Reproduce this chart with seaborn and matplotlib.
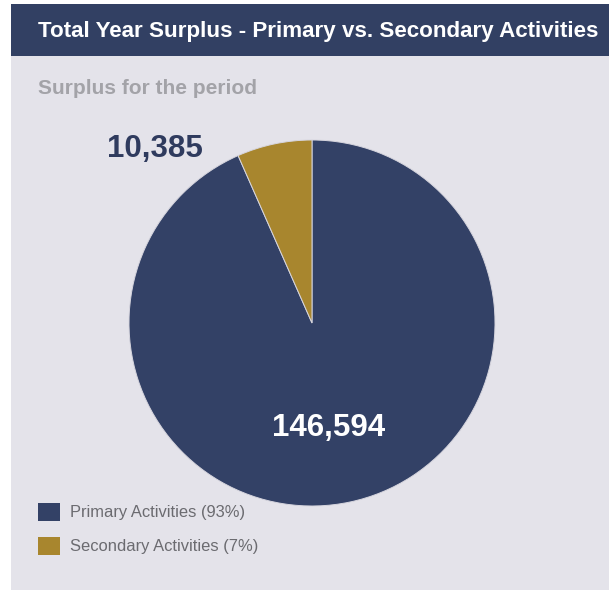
import matplotlib
matplotlib.use("Agg")
import matplotlib.pyplot as plt
from matplotlib.patches import Rectangle
import seaborn as sns

# Surplus split between the two activity groups
categories = ["Primary Activities", "Secondary Activities"]
surplus = [146594, 10385]
legend_labels = ["Primary Activities (93%)", "Secondary Activities (7%)"]
value_labels = ["146,594", "10,385"]

title = "Total Year Surplus - Primary vs. Secondary Activities"
subtitle = "Surplus for the period"

NAVY = "#334166"
GOLD = "#a8862e"
PANEL = "#e4e3ea"
colors = [NAVY, GOLD]

sns.set_theme(style="white")
plt.rcParams["font.family"] = ["Liberation Sans", "DejaVu Sans"]

W, H = 609, 590
fig = plt.figure(figsize=(W / 100, H / 100), dpi=100)
fig.patch.set_facecolor("white")


def fx(px):
    return px / W


def fy(py):
    return 1 - py / H


# card background and header band
fig.add_artist(Rectangle((fx(11), 0), fx(W - 11), fy(56), transform=fig.transFigure,
                         facecolor=PANEL, edgecolor="none", zorder=-10))
fig.add_artist(Rectangle((fx(11), fy(56)), fx(W - 11), (56 - 4) / H, transform=fig.transFigure,
                         facecolor="#324063", edgecolor="none", zorder=-10))

fig.text(fx(38), fy(32), title, color="white", fontsize=16.1, fontweight="bold",
         ha="left", va="center")
fig.text(fx(38), fy(88), subtitle, color="#a3a3a8", fontsize=15, fontweight="bold",
         ha="left", va="center")

# pie axes: centre (312, 323), radius 183 px
cx, cy, r = 312, 323, 183
ax = fig.add_axes([fx(cx - r), fy(cy + r), 2 * r / W, 2 * r / H], zorder=1)
ax.patch.set_alpha(0)
wedges, _ = ax.pie(surplus, colors=colors, startangle=90, counterclock=False,
                   radius=1.0, wedgeprops=dict(edgecolor="#d6d5de", linewidth=0.7))
ax.set_xlim(-1, 1)
ax.set_ylim(-1, 1)
ax.set_aspect("equal")
ax.axis("off")

ax.text(0.09, -0.575, value_labels[0], color="white", fontsize=22.5, fontweight="bold",
        ha="center", va="center")
ax.text(-0.86, 0.95, value_labels[1], color="#2f3b5e", fontsize=22.5, fontweight="bold",
        ha="center", va="center", clip_on=False)

# legend drawn as swatches with labels
for i, (lab, col) in enumerate(zip(legend_labels, colors)):
    top = 503 + i * 34
    fig.add_artist(Rectangle((fx(38), fy(top + 18)), 22 / W, 18 / H,
                             transform=fig.transFigure, facecolor=col, edgecolor="none"))
    fig.text(fx(70), fy(top + 10), lab, color="#6b6b70", fontsize=11.9,
             ha="left", va="center")

fig.savefig("out.png", dpi=100, facecolor=fig.get_facecolor())
